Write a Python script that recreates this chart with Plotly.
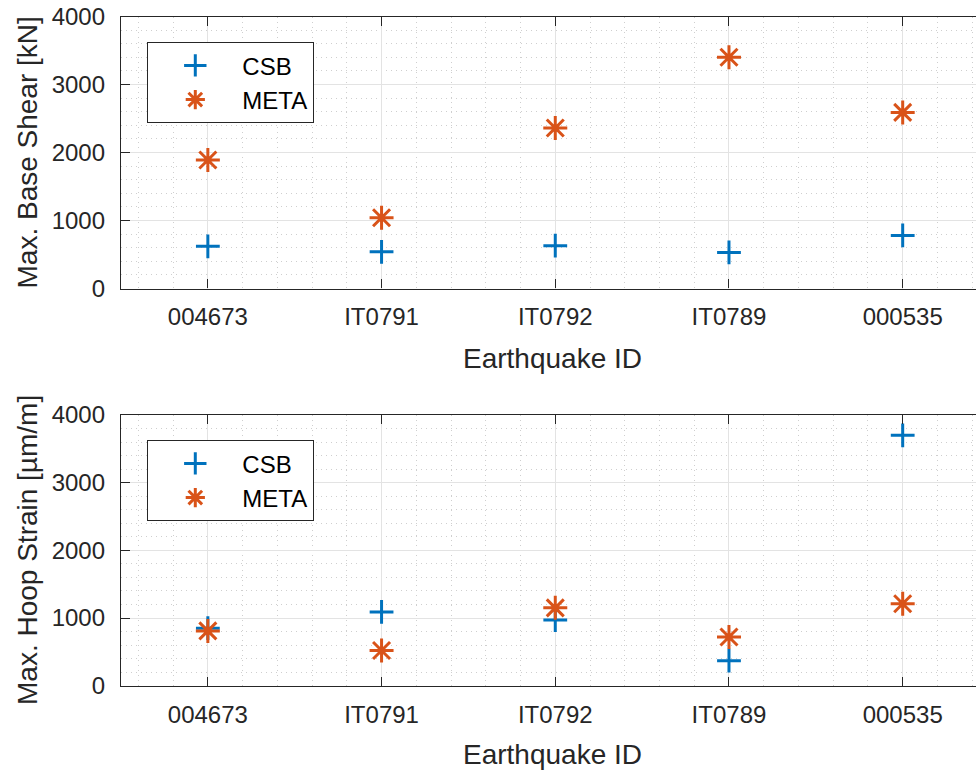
import plotly.graph_objects as go

# ---- data ----
eq_ids = ["004673", "IT0791", "IT0792", "IT0789", "000535"]
shear_csb = [620, 540, 630, 530, 780]
shear_meta = [1890, 1040, 2360, 3400, 2590]
strain_csb = [850, 1090, 970, 370, 3700]
strain_meta = [810, 520, 1150, 720, 1210]
y_ticks = [0, 1000, 2000, 3000, 4000]

xpos = list(range(1, len(eq_ids) + 1))

BLUE = "#0072BD"
ORANGE = "#D95319"
TXT = "#262626"
FONT = "Liberation Sans, Arial, Helvetica, sans-serif"
W, H = 976, 771

fig = go.Figure()

def add_pair(xa, ya, csb, meta, leg):
    fig.add_trace(go.Scatter(
        x=xpos, y=csb, mode="markers", name="CSB", xaxis=xa, yaxis=ya,
        legend=leg,
        marker=dict(symbol="cross-thin", size=17, color=BLUE,
                    line=dict(color=BLUE, width=3)),
    ))
    fig.add_trace(go.Scatter(
        x=xpos, y=meta, mode="markers", name="META", xaxis=xa, yaxis=ya,
        legend=leg,
        marker=dict(symbol="asterisk", size=20, color=ORANGE,
                    line=dict(color=ORANGE, width=3)),
    ))

add_pair("x", "y", shear_csb, shear_meta, "legend")
add_pair("x2", "y2", strain_csb, strain_meta, "legend2")

x0 = 121 / W
top_dom = [1 - 288.5 / H, 1 - 16.5 / H]
bot_dom = [1 - 685.7 / H, 1 - 415 / H]

def xaxis_cfg(anchor):
    return dict(
        domain=[x0, 1.0], anchor=anchor, range=[0.5, 5.422],
        tickmode="array", tickvals=xpos, ticktext=eq_ids,
        ticks="inside", ticklen=9, tickwidth=1, tickcolor=TXT,
        ticklabelstandoff=7,
        showline=True, linecolor=TXT, linewidth=1.3, mirror="ticks",
        showgrid=True, gridcolor="#e3e3e3", gridwidth=1,
        minor=dict(dtick=0.2, tick0=0, showgrid=True, gridcolor="#cfcfcf",
                   griddash="1px,4px", gridwidth=1),
        tickfont=dict(family=FONT, size=24, color=TXT),
        zeroline=False, automargin=False,
    )

def yaxis_cfg(anchor, dom):
    return dict(
        domain=dom, anchor=anchor, range=[0, 4000],
        tickmode="array", tickvals=y_ticks,
        ticks="inside", ticklen=9, tickwidth=1, tickcolor=TXT,
        ticklabelstandoff=10,
        showline=True, linecolor=TXT, linewidth=1.3, mirror=False,
        showgrid=True, gridcolor="#e3e3e3", gridwidth=1,
        minor=dict(dtick=200, tick0=0, showgrid=True, gridcolor="#cfcfcf",
                   griddash="1px,4px", gridwidth=1),
        tickfont=dict(family=FONT, size=24, color=TXT),
        zeroline=False, automargin=False,
    )

legend_common = dict(
    xanchor="left", yanchor="top", bgcolor="white",
    bordercolor=TXT, borderwidth=1.3,
    font=dict(family=FONT, size=24, color="black"),
    itemwidth=84, tracegroupgap=0,
)

fig.update_layout(
    width=W, height=H,
    margin=dict(l=0, r=0, t=0, b=0),
    paper_bgcolor="white", plot_bgcolor="white",
    showlegend=True,
    xaxis=xaxis_cfg("y"),
    yaxis=yaxis_cfg("x", top_dom),
    xaxis2=xaxis_cfg("y2"),
    yaxis2=yaxis_cfg("x2", bot_dom),
    legend=dict(x=147 / W, y=1 - 42 / H, **legend_common),
    legend2=dict(x=147 / W, y=1 - 440 / H, **legend_common),
    annotations=[
        dict(text="Max. Base Shear [kN]", xref="paper", yref="paper",
             x=27 / W, y=1 - 152.5 / H, textangle=-90, showarrow=False,
             xanchor="center", yanchor="middle",
             font=dict(family=FONT, size=28, color=TXT)),
        dict(text="Max. Hoop Strain [µm/m]", xref="paper", yref="paper",
             x=27 / W, y=1 - 550 / H, textangle=-90, showarrow=False,
             xanchor="center", yanchor="middle",
             font=dict(family=FONT, size=28, color=TXT)),
        dict(text="Earthquake ID", xref="paper", yref="paper",
             x=552 / W, y=1 - 358 / H, showarrow=False,
             xanchor="center", yanchor="middle",
             font=dict(family=FONT, size=28, color=TXT)),
        dict(text="Earthquake ID", xref="paper", yref="paper",
             x=552 / W, y=1 - 754 / H, showarrow=False,
             xanchor="center", yanchor="middle",
             font=dict(family=FONT, size=28, color=TXT)),
    ],
)

fig.write_html(
    "out.html",
    config={"displayModeBar": False},
    post_script="document.body.style.margin='0';document.body.style.overflow='hidden';",
)
